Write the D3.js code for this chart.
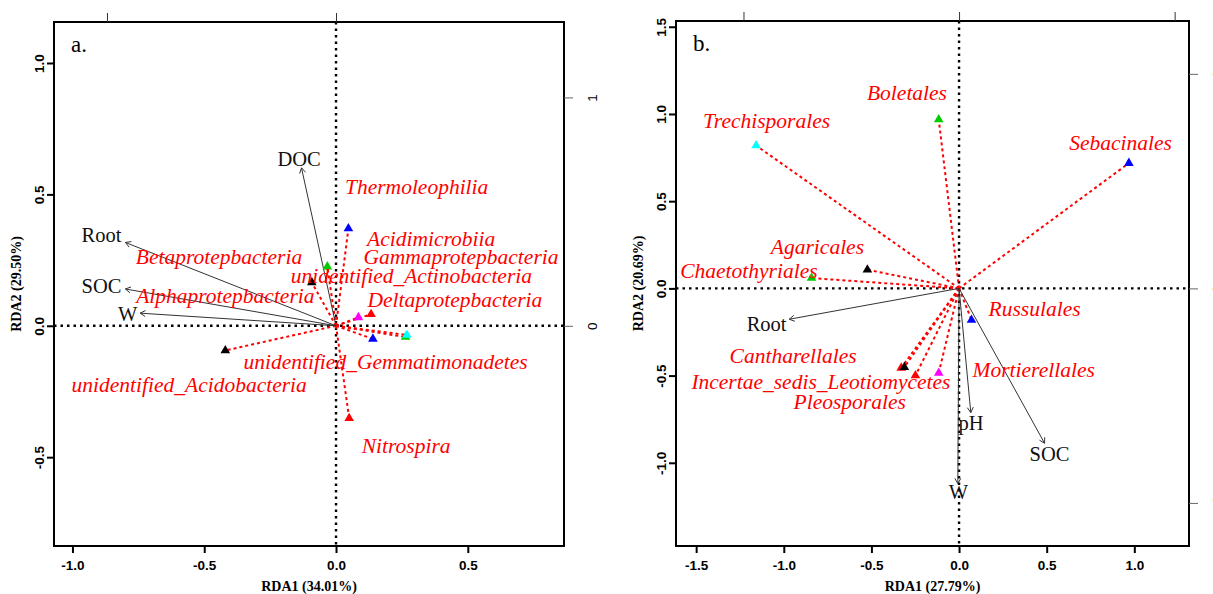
<!DOCTYPE html>
<html>
<head>
<meta charset="utf-8">
<script src="https://cdn.jsdelivr.net/npm/d3@7"></script>
<style>
  body { margin: 0; background: #fff; }
  svg { display: block; font-family: "Liberation Serif", "Times New Roman", serif; }
</style>
</head>
<body>
<svg id="chart" width="1213" height="594"></svg>
<script>
// R default palette, recycled for the species triangles
const palette = ['#000000', '#FF0000', '#00CD00', '#0000FF', '#00FFFF', '#FF00FF']

// ---------- panel a. (bacteria) ----------
const envNamesA = ['DOC', 'Root', 'SOC', 'W']
const envRda1A = [-0.131, -0.799, -0.799, -0.743]
const envRda2A = [0.601, 0.317, 0.140, 0.048]
const envLabX_A = [-0.14, -0.89, -0.89, -0.79]
const envLabY_A = [0.635, 0.346, 0.15, 0.044]

const spNamesA = ['unidentified_Acidobacteria', 'Nitrospira', 'Gammaprotepbacteria', 'Thermoleophilia',
  'unidentified_Gemmatimonadetes', 'Deltaprotepbacteria', 'Alphaprotepbacteria', 'Acidimicrobiia',
  'Betaprotepbacteria', 'unidentified_Actinobacteria']
const spRda1A = [-0.42, 0.05, 0.264, 0.047, 0.269, 0.085, -0.092, 0.133, -0.033, 0.140]
const spRda2A = [-0.094, -0.352, -0.043, 0.370, -0.035, 0.032, 0.165, 0.044, 0.225, -0.050]
const spLabX_A = [-0.557, 0.266, 0.474, 0.306, 0.188, 0.451, -0.42, 0.361, -0.444, 0.286]
const spLabY_A = [-0.225, -0.456, 0.262, 0.527, -0.139, 0.100, 0.115, 0.331, 0.262, 0.188]

const xTicksA = [-1.0, -0.5, 0.0, 0.5]
const yTicksA = [-0.5, 0.0, 0.5, 1.0]

// ---------- panel b. (fungi) ----------
const envNamesB = ['Root', 'pH', 'SOC', 'W']
const envRda1B = [-0.969, 0.067, 0.488, -0.007]
const envRda2B = [-0.177, -0.712, -0.888, -1.119]
const envLabX_B = [-1.098, 0.068, 0.516, -0.004]
const envLabY_B = [-0.206, -0.772, -0.952, -1.168]

const spNamesB = ['Agaricales', 'Cantharellales', 'Boletales', 'Sebacinales', 'Trechisporales',
  'Mortierellales', 'Incertae_sedis_Leotiomycetes', 'Pleosporales', 'Chaetothyriales', 'Russulales']
const spRda1B = [-0.523, -0.33, -0.116, 0.969, -1.158, -0.116, -0.312, -0.249, -0.842, 0.071]
const spRda2B = [0.107, -0.456, 0.968, 0.718, 0.819, -0.485, -0.452, -0.5, 0.059, -0.181]
const spLabX_B = [-0.808, -0.947, -0.297, 0.922, -1.098, 0.426, -0.788, -0.624, -1.199, 0.431]
const spLabY_B = [0.237, -0.389, 1.119, 0.832, 0.958, -0.466, -0.539, -0.652, 0.102, -0.115]

const xTicksB = [-1.5, -1.0, -0.5, 0.0, 0.5, 1.0]
const yTicksB = [-1.0, -0.5, 0.0, 0.5, 1.0, 1.5]

// species-score axes (top / right)
const secTicks = [-1, 0, 1]

const svg = d3.select('#chart')
svg.append('rect').attr('width', 1213).attr('height', 594).attr('fill', '#fff')

const fmt = d => d.toFixed(1)

function drawPanel(p) {
  const g = svg.append('g')
  const x = d3.scaleLinear().domain(p.xDom).range([p.left, p.right])
  const y = d3.scaleLinear().domain(p.yDom).range([p.bottom, p.top])

  // dotted zero lines
  g.append('line').attr('x1', p.left).attr('x2', p.right).attr('y1', y(0)).attr('y2', y(0))
    .attr('stroke', '#000').attr('stroke-width', 2.4).attr('stroke-dasharray', '2.5,4')
  g.append('line').attr('x1', x(0)).attr('x2', x(0)).attr('y1', p.top).attr('y2', p.bottom)
    .attr('stroke', '#000').attr('stroke-width', 2.4).attr('stroke-dasharray', '2.5,4')

  // species: red dotted lines from origin
  const sp = p.spNames.map((n, i) => ({ name: n, x: p.sp1[i], y: p.sp2[i], lx: p.spLx[i], ly: p.spLy[i], col: palette[i % palette.length] }))
  g.selectAll('.spline').data(sp).enter().append('line')
    .attr('x1', x(0)).attr('y1', y(0))
    .attr('x2', d => x(d.x)).attr('y2', d => y(d.y))
    .attr('stroke', '#FF0000').attr('stroke-width', 2).attr('stroke-dasharray', '3,3')

  // environmental arrows
  const env = p.envNames.map((n, i) => ({ name: n, x: p.env1[i], y: p.env2[i], lx: p.envLx[i], ly: p.envLy[i] }))
  env.forEach(d => {
    const x0 = x(0), y0 = y(0), x1 = x(d.x), y1 = y(d.y)
    const ang = Math.atan2(y1 - y0, x1 - x0)
    const len = 6
    g.append('line').attr('x1', x0).attr('y1', y0).attr('x2', x1).attr('y2', y1)
      .attr('stroke', '#333').attr('stroke-width', 1)
    const a1 = ang + Math.PI / 6, a2 = ang - Math.PI / 6
    g.append('path')
      .attr('d', `M${x1 - len * Math.cos(a1)},${y1 - len * Math.sin(a1)}L${x1},${y1}L${x1 - len * Math.cos(a2)},${y1 - len * Math.sin(a2)}`)
      .attr('fill', 'none').attr('stroke', '#333').attr('stroke-width', 1)
  })

  // triangles
  g.selectAll('.tri').data(sp).enter().append('path')
    .attr('d', d3.symbol(d3.symbolTriangle).size(40))
    .attr('transform', d => `translate(${x(d.x)},${y(d.y)})`)
    .attr('fill', d => d.col)

  // labels
  g.selectAll('.envlab').data(env).enter().append('text')
    .attr('x', d => x(d.lx)).attr('y', d => y(d.ly)).attr('dy', '0.33em')
    .attr('text-anchor', 'middle').attr('font-size', 20.5).attr('fill', '#111')
    .text(d => d.name)
  g.selectAll('.splab').data(sp).enter().append('text')
    .attr('x', d => x(d.lx)).attr('y', d => y(d.ly)).attr('dy', '0.33em')
    .attr('text-anchor', 'middle').attr('font-size', 21.5).attr('font-style', 'italic').attr('fill', '#FF0000')
    .text(d => d.name)

  // box
  g.append('rect').attr('x', p.left).attr('y', p.top)
    .attr('width', p.right - p.left).attr('height', p.bottom - p.top)
    .attr('fill', 'none').attr('stroke', '#000').attr('stroke-width', 2)

  // bottom axis
  const ax = g.append('g').attr('transform', `translate(0,${p.bottom})`)
    .call(d3.axisBottom(x).tickValues(p.xTicks).tickSize(7).tickPadding(7).tickFormat(fmt))
  ax.select('.domain').remove()
  ax.selectAll('line').attr('stroke', '#000').attr('stroke-width', 2)
  ax.selectAll('text').attr('font-family', null).attr('font-size', 13.5).attr('font-weight', 'bold').attr('fill', '#000')

  // left axis, labels parallel to the axis
  const ay = g.append('g').attr('transform', `translate(${p.left},0)`)
    .call(d3.axisLeft(y).tickValues(p.yTicks).tickSize(7).tickFormat(fmt))
  ay.select('.domain').remove()
  ay.selectAll('line').attr('stroke', '#000').attr('stroke-width', 2)
  ay.selectAll('text').attr('x', null).attr('dy', null)
    .attr('text-anchor', 'middle').attr('transform', 'translate(-10,0) rotate(-90)')
    .attr('font-size', 13.5).attr('font-weight', 'bold').attr('fill', '#000')

  // species-score axes on top and right
  const xs = d3.scaleLinear().domain(p.xDom.map(v => v / p.k)).range([p.left, p.right])
  const ys = d3.scaleLinear().domain(p.yDom.map(v => v / p.k)).range([p.bottom, p.top])
  const at = g.append('g').attr('transform', `translate(0,${p.top})`)
    .call(d3.axisTop(xs).tickValues(secTicks.filter(v => v >= xs.domain()[0] && v <= xs.domain()[1])).tickSize(9).tickFormat(''))
  at.select('.domain').remove()
  at.selectAll('line').attr('stroke', '#333')
  const ar = g.append('g').attr('transform', `translate(${p.right},0)`)
    .call(d3.axisRight(ys).tickValues(secTicks.filter(v => v >= ys.domain()[0] && v <= ys.domain()[1])).tickSize(9).tickFormat(d3.format('d')))
  ar.select('.domain').remove()
  ar.selectAll('line').attr('stroke', '#666')
  ar.selectAll('text').attr('x', null).attr('dy', null)
    .attr('text-anchor', 'middle').attr('transform', 'translate(33,0) rotate(-90)')
    .attr('font-family', null).attr('font-size', 13.5).attr('fill', '#000')

  // axis titles
  g.append('text').attr('x', (p.left + p.right) / 2).attr('y', 591)
    .attr('text-anchor', 'middle').attr('font-size', 14).attr('font-weight', 'bold')
    .text(p.xTitle)
  g.append('text').attr('transform', `translate(${p.left - 33},${(p.top + p.bottom) / 2}) rotate(-90)`)
    .attr('text-anchor', 'middle').attr('font-size', 14).attr('font-weight', 'bold')
    .text(p.yTitle)

  // panel letter
  g.append('text').attr('x', p.left + 17).attr('y', p.top + 30)
    .attr('font-size', 23).text(p.letter)
}

drawPanel({
  left: 54, right: 564, top: 22, bottom: 546,
  xDom: [-1.070, 0.865], yDom: [-0.838, 1.156], k: 0.869,
  envNames: envNamesA, env1: envRda1A, env2: envRda2A, envLx: envLabX_A, envLy: envLabY_A,
  spNames: spNamesA, sp1: spRda1A, sp2: spRda2A, spLx: spLabX_A, spLy: spLabY_A,
  xTicks: xTicksA, yTicks: yTicksA,
  xTitle: 'RDA1 (34.01%)', yTitle: 'RDA2 (29.50%)', letter: 'a.'
})

drawPanel({
  left: 676, right: 1189, top: 21, bottom: 546,
  xDom: [-1.615, 1.312], yDom: [-1.477, 1.533], k: 1.23,
  envNames: envNamesB, env1: envRda1B, env2: envRda2B, envLx: envLabX_B, envLy: envLabY_B,
  spNames: spNamesB, sp1: spRda1B, sp2: spRda2B, spLx: spLabX_B, spLy: spLabY_B,
  xTicks: xTicksB, yTicks: yTicksB,
  xTitle: 'RDA1 (27.79%)', yTitle: 'RDA2 (20.69%)', letter: 'b.'
})
</script>
</body>
</html>
